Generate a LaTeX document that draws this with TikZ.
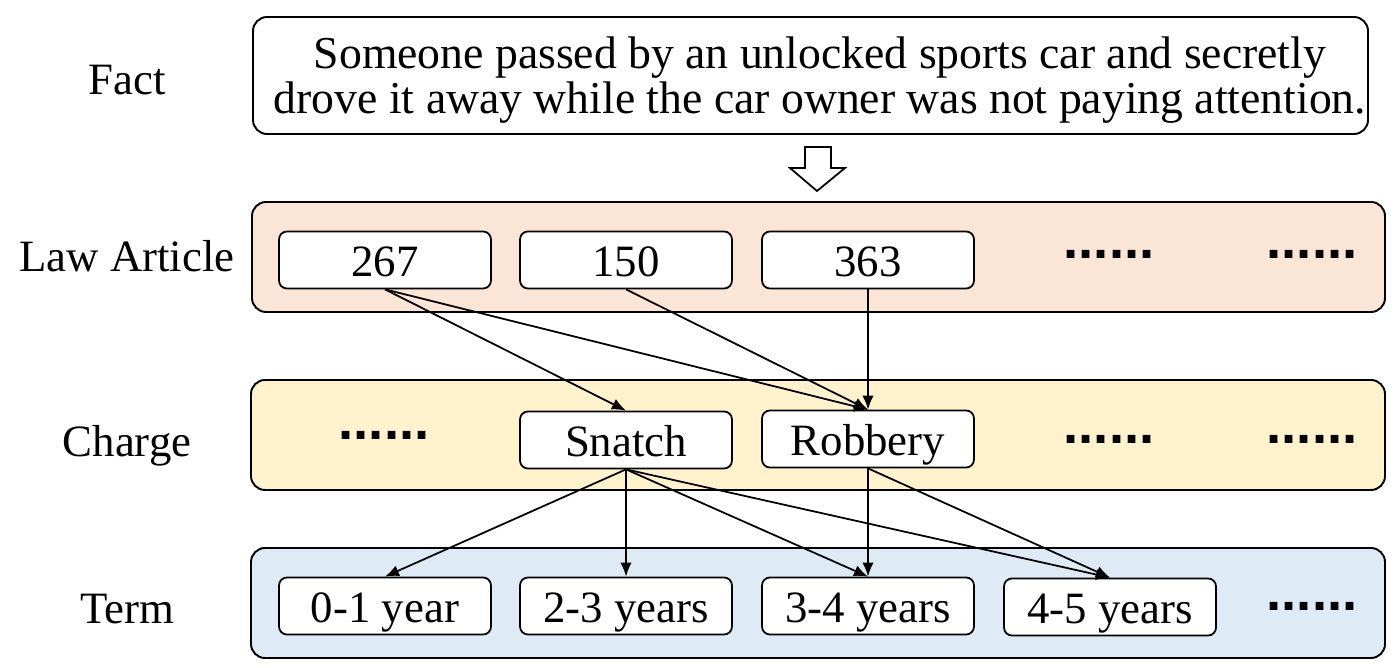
\documentclass[tikz,border=0pt]{standalone}
\usepackage{fontspec}
\setmainfont{Liberation Serif}
\newfontfamily\dotfont{Liberation Sans}
\usepackage{tikz}
\usetikzlibrary{arrows.meta}
\definecolor{lawfill}{RGB}{251, 229, 214}
\definecolor{chargefill}{RGB}{255, 242, 204}
\definecolor{termfill}{RGB}{222, 235, 247}
\tikzset{
  band/.style={draw, line width=1.1pt, rounded corners=8pt},
  item/.style={draw, fill=white, line width=1pt, rounded corners=4.5pt,
    minimum width=4.24cm, minimum height=1.14cm, inner sep=0pt,
    text height=21pt, text depth=2.5pt,
    font=\fontsize{25.5}{30.6}\selectfont},
  rowname/.style={anchor=base, font=\fontsize{25.5}{30.6}\selectfont},
  more/.style={anchor=base, inner sep=0pt,
    font=\fontsize{31}{36}\dotfont\bfseries\selectfont},
  link/.style={line width=1pt, -{Latex[length=8pt, width=6.5pt]}}
}

\begin{document}
\begin{tikzpicture}[x=0.02cm, y=-0.02cm]

  \useasboundingbox (0, 0) rectangle (1400, 668);

  % fact
  \draw[line width=1.1pt, rounded corners=8pt] (253, 17) rectangle (1368, 134);
  \node[align=center, font=\fontsize{26}{25.5}\selectfont] (fact) at (820, 80)
    {Someone passed by an unlocked sports car and secretly\\
     drove it away while the car owner was not paying attention.};
  \node[rowname] (factname) at (127, 95) {Fact};

  \draw[line width=1pt, fill=white] (805, 147) -- (831, 147) -- (831, 168)
    -- (845, 168) -- (817, 191) -- (790, 168) -- (805, 168) -- cycle;

  % bands
  \filldraw[band, fill=lawfill] (252, 202) rectangle (1385, 312);
  \filldraw[band, fill=chargefill] (251, 380) rectangle (1385, 490);
  \filldraw[band, fill=termfill] (251, 548) rectangle (1385, 658);

  \node[rowname] (lawname) at (127, 272) {Law Article};
  \node[rowname] (chargename) at (127, 457) {Charge};
  \node[rowname] (termname) at (127, 623) {Term};

  % law articles
  \node[item] (a267) at (385, 260) {267};
  \node[item] (a150) at (626, 260) {150};
  \node[item] (a363) at (868, 260) {363};
  \node[more] (amore1) at (1109, 259) {......};
  \node[more] (amore2) at (1312, 259) {......};

  % charges
  \node[more] (cmore0) at (384, 440) {......};
  \node[item] (snatch) at (626, 440) {Snatch};
  \node[item] (robbery) at (868, 439) {Robbery};
  \node[more] (cmore1) at (1109, 444) {......};
  \node[more] (cmore2) at (1312, 444) {......};

  % terms
  \node[item] (t01) at (385, 606) {0-1 year};
  \node[item] (t23) at (626, 606) {2-3 years};
  \node[item] (t34) at (868, 606) {3-4 years};
  \node[item] (t45) at (1110, 607) {4-5 years};
  \node[more] (tmore) at (1312, 611) {......};

  \draw[link] (a267.south) -- (snatch.north);
  \draw[link] (a267.south) -- (robbery.north);
  \draw[link] (a150.south) -- (robbery.north);
  \draw[link] (a363.south) -- (robbery.north);

  \foreach \t in {t01, t23, t34, t45} {
    \draw[link] (snatch.south) -- (\t.north);
  }
  \draw[link] (robbery.south) -- (t34.north);
  \draw[link] (robbery.south) -- (t45.north);

\end{tikzpicture}
\end{document}
